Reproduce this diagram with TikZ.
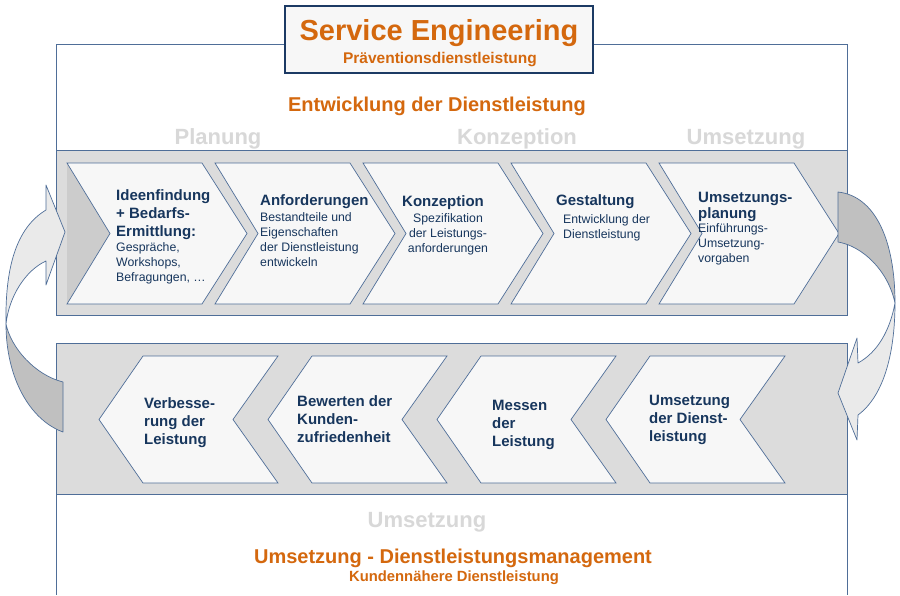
\documentclass[tikz,border=0pt]{standalone}
\usepackage{fontspec}
\setmainfont{Liberation Sans}
\definecolor{bandgray}{RGB}{220,220,220}
\definecolor{chevfill}{RGB}{247,247,247}
\definecolor{bordblue}{RGB}{79,110,152}
\definecolor{navy}{RGB}{23,54,93}
\definecolor{titleblue}{RGB}{28,58,100}
\definecolor{orng}{RGB}{212,104,14}
\definecolor{ghost}{RGB}{216,216,216}
\definecolor{arrlight}{RGB}{234,234,234}
\definecolor{arrdark}{RGB}{192,192,192}
\definecolor{notchgray}{RGB}{204,204,204}
\begin{document}
\begin{tikzpicture}[x=1pt,y=-1pt,
  band/.style={fill=bandgray,draw=bordblue,line width=0.8pt},
  chev/.style={fill=chevfill,draw=bordblue,line width=0.7pt,line join=miter},
  arrL/.style={fill=arrlight,draw=bordblue,line width=0.7pt,line join=round},
  arrD/.style={fill=arrdark,draw=bordblue,line width=0.7pt,line join=round},
  frame/.style={draw=bordblue,line width=0.8pt},
  head/.style={font=\bfseries\fontsize{15}{18}\selectfont,text=navy,inner sep=0pt,anchor=north west,align=left},
  body/.style={font=\fontsize{12.3}{14.8}\selectfont,text=navy,inner sep=0pt,anchor=north west,align=left},
  ghosttxt/.style={font=\bfseries\fontsize{22}{24}\selectfont,text=ghost,inner sep=0pt,anchor=base},
  orangetxt/.style={text=orng,inner sep=0pt,anchor=base}
]
\useasboundingbox (0,0) rectangle (900,595);
\fill[white] (0,0) rectangle (900,595);

% outer frame
\draw[frame] (56,150) -- (56,44) -- (847,44) -- (847,150);
\draw[frame] (56,494) -- (56,595);
\draw[frame] (847,494) -- (847,595);

% bands
\draw[band] (56,150.5) rectangle (847,315);
\draw[band] (56,343) rectangle (847,494);

% dark notch triangle
\fill[notchgray] (67,163) -- (110,233.5) -- (67,304) -- cycle;

% top chevrons
\foreach \k in {0,...,4}{
  \pgfmathsetmacro{\xa}{67+148*\k}
  \draw[chev] (\xa,163) -- ({\xa+135},163) -- ({\xa+180},233.5) -- ({\xa+135},304) -- (\xa,304) -- ({\xa+43},233.5) -- cycle;
}
% bottom chevrons
\foreach \k in {0,...,3}{
  \pgfmathsetmacro{\t}{99+169*\k}
  \draw[chev] (\t,419.5) -- ({\t+44},356) -- ({\t+179},356) -- ({\t+134},419.5) -- ({\t+179},483) -- ({\t+44},483) -- cycle;
}

% left curved arrow
\draw[arrD] (6,324) .. controls (6,378) and (30,420) .. (63,432) -- (63,382)
   .. controls (35,375) and (11,348) .. (6,324) -- cycle;
\draw[arrL] (65,232) -- (46,185) -- (46,210) .. controls (16,228) and (5,268) .. (6,324)
   .. controls (9,296) and (26,270) .. (46,261) -- (46,285) -- cycle;

% right curved arrow
\draw[arrD] (838,192) .. controls (875,196) and (895,240) .. (895,303)
   .. controls (888,270) and (862,246) .. (838,242) -- cycle;
\draw[arrL] (895,303) .. controls (890,330) and (878,352) .. (858,363) -- (857,338) -- (838,393)
   -- (857,440) -- (858,415) .. controls (885,395) and (895,350) .. (895,303) -- cycle;

% title box
\node[draw=titleblue,line width=2.8pt,fill=chevfill,minimum width=308pt,minimum height=67pt,inner sep=0pt] (title) at (439,39.5) {};
\node[orangetxt,font=\bfseries\fontsize{29}{30}\selectfont] (t1) at (439,40) {Service Engineering};
\node[orangetxt,font=\bfseries\fontsize{15.5}{17}\selectfont] (t2) at (440,63) {Präventionsdienstleistung};

\node[orangetxt,font=\bfseries\fontsize{20}{22}\selectfont] (t3) at (437,111) {Entwicklung der Dienstleistung};
\node[ghosttxt] (g1) at (218,144) {Planung};
\node[ghosttxt] (g2) at (517,144) {Konzeption};
\node[ghosttxt] (g3) at (746,144) {Umsetzung};

% top chevron texts
\node[head] (h1) at (116,189.5) {Ideenfindung\\+ Bedarfs-\\Ermittlung:};
\node[body] (b1) at (116,242.5) {Gespräche,\\Workshops,\\Befragungen, …};
\node[head] (h2) at (260,194.5) {Anforderungen};
\node[body] (b2) at (260,212.5) {Bestandteile und\\Eigenschaften\\der Dienstleistung\\entwickeln};
\node[head] (h3) at (402,195.5) {Konzeption};
\node[body,anchor=north,align=center] (b3) at (448,213.5) {Spezifikation\\der Leistungs-\\anforderungen};
\node[head] (h4) at (556,194.5) {Gestaltung};
\node[body] (b4) at (563,214.5) {Entwicklung der\\Dienstleistung};
\node[head,font=\bfseries\fontsize{15}{16.5}\selectfont] (h5) at (698,191.5) {Umsetzungs-\\planung};
\node[body,font=\fontsize{12.3}{15}\selectfont] (b5) at (698,223.5) {Einführungs-\\Umsetzung-\\vorgaben};

% bottom chevron texts
\node[head] (l1) at (144,397.5) {Verbesse-\\rung der\\Leistung};
\node[head] (l2) at (297,395.5) {Bewerten der\\Kunden-\\zufriedenheit};
\node[head] (l3) at (492,399.5) {Messen\\der\\Leistung};
\node[head] (l4) at (649,394.5) {Umsetzung\\der Dienst-\\leistung};

% bottom titles
\node[ghosttxt] (g4) at (427,527) {Umsetzung};
\node[orangetxt,font=\bfseries\fontsize{20}{22}\selectfont] (t4) at (453,563) {Umsetzung - Dienstleistungsmanagement};
\node[orangetxt,font=\bfseries\fontsize{14.8}{16}\selectfont] (t5) at (454,581) {Kundennähere Dienstleistung};
\end{tikzpicture}
\end{document}
